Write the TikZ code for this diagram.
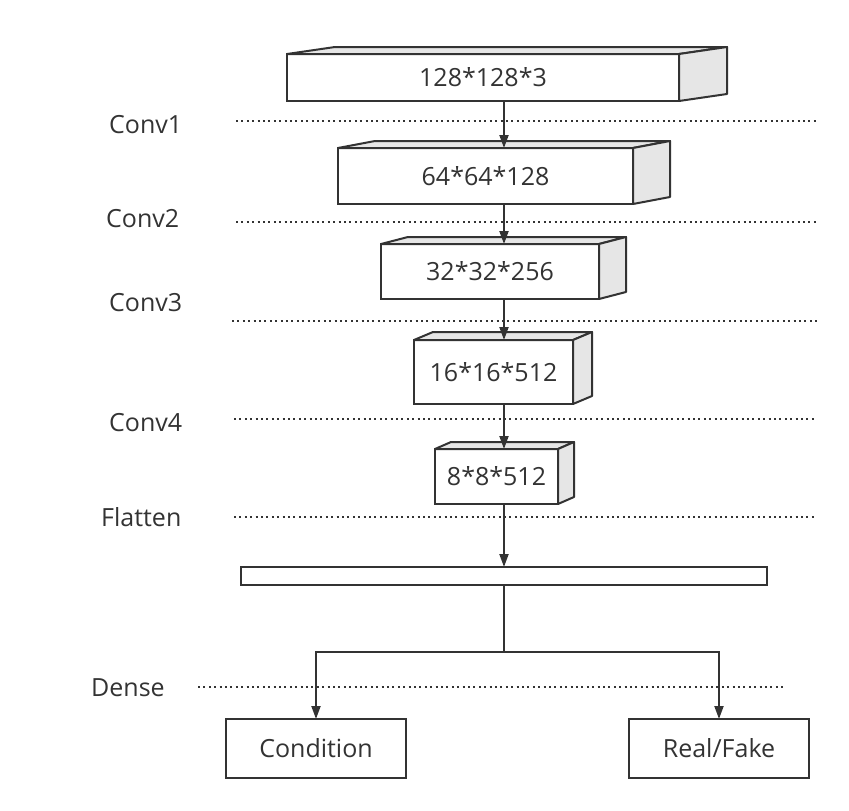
\documentclass[tikz,border=0pt]{standalone}
\usepackage{fontspec}
\setmainfont{Open Sans}
\usepackage{tikz}
\usetikzlibrary{calc,arrows.meta}
\definecolor{ink}{HTML}{333333}
\definecolor{facegray}{HTML}{E6E6E6}
\def\slab(#1)(#2:#3){%
	\filldraw[face] (#1.north west) -- ++(#2,-#3) -- ($(#1.north east)+(#2,-#3)$) -- (#1.north east) -- cycle;
	\filldraw[face] (#1.north east) -- ++(#2,-#3) -- ($(#1.south east)+(#2,-#3)$) -- (#1.south east) -- cycle;}

\begin{document}
\begin{tikzpicture}[x=1pt, y=-1pt,
	box/.style={draw=ink, line width=2pt, fill=white, outer sep=0pt, inner sep=0pt, text=ink, font=\fontsize{25pt}{30pt}\selectfont},
	face/.style={draw=ink, fill=facegray, line width=2pt, line join=round},
	tag/.style={anchor=base west, inner sep=0pt, text=ink, font=\fontsize{25pt}{30pt}\selectfont},
	dotline/.style={draw=ink, line width=2pt, dash pattern=on 2pt off 3.4pt},
	arr/.style={draw=ink, line width=2pt, -{Triangle[length=13pt,width=9pt]}}]
			%%%%% START %%%%%
			
			\useasboundingbox (0, 0) rectangle (849, 811);
			
			\node[box, minimum width=392, minimum height=47] (b1) at (483, 77.5) {128*128*3};
			\node[box, minimum width=295, minimum height=56] (b2) at (485.5, 176) {64*64*128};
			\node[box, minimum width=218, minimum height=55] (b3) at (490, 271.5) {32*32*256};
			\node[box, minimum width=159, minimum height=64] (b4) at (493.5, 372) {16*16*512};
			\node[box, minimum width=123, minimum height=55] (b5) at (496.5, 476.5) {8*8*512};
			
			\slab(b1)(48:7)
			\slab(b2)(37:7)
			\slab(b3)(27:7)
			\slab(b4)(19:8)
			\slab(b5)(16:7)
			
			\node[box, minimum width=526, minimum height=18] (flat) at (504, 576) {};
			\node[box, minimum width=180, minimum height=59] (cond) at (316, 748.5) {Condition};
			\node[box, minimum width=180, minimum height=59] (rf) at (719, 748.5) {Real/Fake};
			
			\node[tag] (conv1) at (109, 133.3) {Conv1};
			\node[tag] (conv2) at (106, 227.3) {Conv2};
			\node[tag] (conv3) at (109, 311.7) {Conv3};
			\node[tag] (conv4) at (109, 431.7) {Conv4};
			\node[tag] (flatten) at (101, 526.7) {Flatten};
			\node[tag] (dense) at (91, 696) {Dense};
			
			\draw[dotline] (236, 121) -- (817, 121);
			\draw[dotline] (236, 222) -- (817, 222);
			\draw[dotline] (232, 321) -- (817, 321);
			\draw[dotline] (234, 419) -- (817, 419);
			\draw[dotline] (234, 517) -- (817, 517);
			\draw[dotline] (198, 687) -- (786, 687);
			
			\coordinate (spine) at (504, 0);
			\coordinate (fork) at (504, 652);
			
			\draw[arr] (b1.south -| spine) -- (b2.north -| spine);
			\draw[arr] (b2.south -| spine) -- (b3.north -| spine);
			\draw[arr] (b3.south -| spine) -- (b4.north -| spine);
			\draw[arr] (b4.south -| spine) -- (b5.north -| spine);
			\draw[arr] (b5.south -| spine) -- (flat.north -| spine);
			\draw[draw=ink, line width=2pt] (flat.south -| spine) -- (fork);
			\draw[arr] (fork) -| (cond.north);
			\draw[arr] (fork) -| (rf.north);
			
			%%%%% END %%%%%
		\end{tikzpicture}
\end{document}
